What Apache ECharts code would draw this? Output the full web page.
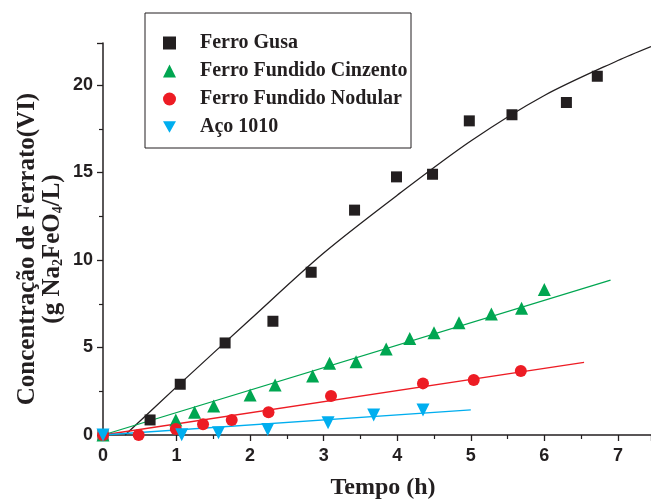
<!DOCTYPE html>
<html>
<head>
<meta charset="utf-8">
<script src="https://cdn.jsdelivr.net/npm/echarts@6/dist/echarts.min.js"></script>
<style>html,body{margin:0;padding:0;background:#fff}#c{width:651px;height:500px}</style>
</head>
<body>
<div id="c"></div>
<script>
// ---- data ----
var seriesNames = ['Ferro Gusa', 'Ferro Fundido Cinzento', 'Ferro Fundido Nodular', 'Aço 1010'];
var xTickLabels = ['0','1','2','3','4','5','6','7'];
var yTickLabels = ['0','5','10','15','20'];

var gusaX = [0, 0.64, 1.05, 1.66, 2.31, 2.83, 3.42, 3.99, 4.48, 4.98, 5.56, 6.30, 6.72];
var gusaY = [0, 0.86, 2.9, 5.26, 6.5, 9.3, 12.85, 14.75, 14.9, 17.95, 18.3, 19.0, 20.5];

var cinzX = [0, 0.99, 1.245, 1.505, 2.0, 2.34, 2.85, 3.08, 3.44, 3.85, 4.17, 4.5, 4.84, 5.28, 5.69, 6.0];
var cinzY = [0, 0.86, 1.3, 1.66, 2.29, 2.86, 3.37, 4.1, 4.19, 4.91, 5.52, 5.85, 6.42, 6.91, 7.24, 8.32];

var nodX = [0, 0.485, 0.99, 1.36, 1.75, 2.25, 3.1, 4.35, 5.04, 5.68];
var nodY = [0, 0, 0.34, 0.61, 0.86, 1.3, 2.23, 2.95, 3.14, 3.66];

var acoX = [0, 1.07, 1.57, 2.24, 3.06, 3.68, 4.35];
var acoY = [0, 0.02, 0.13, 0.32, 0.70, 1.14, 1.43];

// fitted curves
var fitGusaX = [0.3, 1, 2, 3, 4, 5, 6, 7, 7.45];
var fitGusaY = [0, 2.75, 6.6, 10.4, 13.7, 16.8, 19.4, 21.4, 22.2];
var fitCinzX = [0, 6.9];
var fitCinzY = [0, 8.85];
var fitNodX = [0, 6.54];
var fitNodY = [0, 4.15];
var fitAcoX = [0, 5.0];
var fitAcoY = [0, 1.43];

function pairs(xs, ys) { return xs.map(function (x, i) { return [x, ys[i]]; }); }

var colors = ['#231f20', '#00a651', '#ed1c24', '#00aeef'];
var symbols = ['rect', 'triangle', 'circle', 'path://M0,0 L10,0 L5,8.66 Z'];
var sizes = [11, 13, 12, 13];
var scatterData = [pairs(gusaX, gusaY), pairs(cinzX, cinzY), pairs(nodX, nodY), pairs(acoX, acoY)];
var fitData = [pairs(fitGusaX, fitGusaY), pairs(fitCinzX, fitCinzY), pairs(fitNodX, fitNodY), pairs(fitAcoX, fitAcoY)];

var series = [];
for (var i = 0; i < 4; i++) {
  series.push({
    type: 'line', data: fitData[i], showSymbol: false, symbol: 'none', smooth: i === 0 ? 0.3 : false,
    lineStyle: { color: colors[i], width: 1.3 }, silent: true, z: 2, clip: false
  });
}
for (var j = 0; j < 4; j++) {
  series.push({
    name: seriesNames[j], type: 'scatter', data: scatterData[j],
    symbol: symbols[j], symbolSize: sizes[j],
    itemStyle: { color: colors[j], opacity: 1 }, z: 5
  });
}

var serif = '"Liberation Serif", "Times New Roman", serif';
var tickFont = { fontFamily: '"Liberation Sans Narrow", "Liberation Sans", Arial, sans-serif', fontWeight: 'bold', fontSize: 18, color: '#231f20' };

var chart = echarts.init(document.getElementById('c'), null, { renderer: 'canvas' });
chart.setOption({
  animation: false,
  backgroundColor: '#ffffff',
  grid: { left: 103, top: 43, right: 0, bottom: 65, containLabel: false, outerBoundsMode: 'none' },
  legend: {
    data: seriesNames.map(function (n, k) { return { name: n, icon: symbols[k] }; }),
    orient: 'vertical', left: 163, top: 33, itemGap: 8,
    itemWidth: 13, itemHeight: 13, padding: 0,
    textStyle: { fontFamily: serif, fontWeight: 'bold', fontSize: 20, color: '#231f20', lineHeight: 20, padding: [0, 0, 0, 19] },
    selectedMode: false
  },
  xAxis: {
    type: 'value', min: 0, max: 7.45, interval: 1,
    axisLine: { show: true, onZero: false, lineStyle: { color: '#231f20', width: 1.5 } },
    axisTick: { show: true, inside: false, length: 6, lineStyle: { color: '#231f20', width: 1.3 } },
    minorTick: { show: true, splitNumber: 2, length: 4, lineStyle: { color: '#231f20', width: 1.2 } },
    axisLabel: Object.assign({ margin: 12, showMaxLabel: false, formatter: function (v) { return xTickLabels[Math.round(v)] || ''; } }, tickFont),
    splitLine: { show: false }
  },
  yAxis: {
    type: 'value', min: 0, max: 22.4, interval: 5,
    axisLine: { show: true, onZero: false, lineStyle: { color: '#231f20', width: 1.5 } },
    axisTick: { show: true, inside: false, length: 6, lineStyle: { color: '#231f20', width: 1.3 } },
    minorTick: { show: true, splitNumber: 2, length: 4, lineStyle: { color: '#231f20', width: 1.2 } },
    axisLabel: Object.assign({ margin: 10, showMaxLabel: false, formatter: function (v) { return yTickLabels[Math.round(v / 5)] || ''; } }, tickFont),
    splitLine: { show: false }
  },
  graphic: [
    { type: 'rect', shape: { x: 145, y: 13, width: 266, height: 135 }, style: { fill: 'none', stroke: '#231f20', lineWidth: 1 }, z: 10 },
    {
      type: 'text', x: 383, y: 488, z: 10,
      style: { text: 'Tempo (h)', align: 'center', verticalAlign: 'middle', font: 'bold 24px ' + serif, fill: '#231f20' }
    },
    {
      type: 'text', x: 40, y: 249, rotation: Math.PI / 2, z: 10,
      style: {
        text: '{m|Concentração de Ferrato(VI)}\n{m|(g Na}{s|2}{m|FeO}{s|4}{m|/L)}',
        align: 'center', verticalAlign: 'middle',
        rich: {
          m: { fontFamily: serif, fontWeight: 'bold', fontSize: 25, lineHeight: 25, fill: '#231f20', verticalAlign: 'bottom' },
          s: { fontFamily: serif, fontWeight: 'bold', fontSize: 14, lineHeight: 25, fill: '#231f20', verticalAlign: 'bottom', padding: [11, 0, 0, 0] }
        }
      }
    }
  ],
  series: series
});
</script>
</body>
</html>
